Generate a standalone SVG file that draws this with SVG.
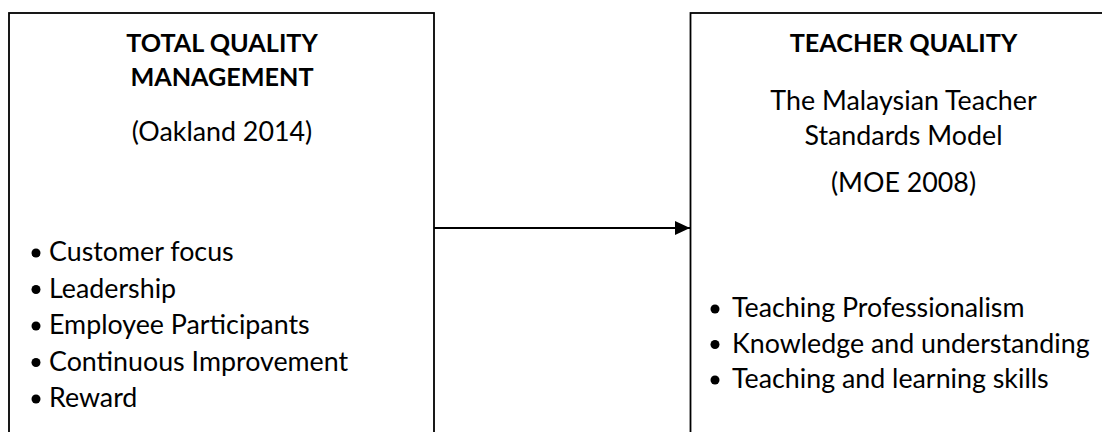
<svg xmlns="http://www.w3.org/2000/svg" width="1102" height="432" viewBox="0 0 1102 432">
  <style>
    .box { fill: #ffffff; stroke: #000000; stroke-width: 1.8; }
    .t { font-family: Lato, "Open Sans", "Liberation Sans", sans-serif; font-size: 26.8px; fill: #000000; }
    .h { font-weight: bold; font-size: 25.2px; }
    .c { text-anchor: middle; }
    .dot { fill: #000000; }
    .conn { stroke: #000000; stroke-width: 1.8; fill: none; }
  </style>
  <defs>
    <marker id="arrow" markerWidth="15" markerHeight="14" refX="15" refY="7" orient="auto" markerUnits="userSpaceOnUse">
      <path d="M0,0 L15,7 L0,14 Z" fill="#000000"/>
    </marker>
  </defs>
  <rect x="0" y="0" width="1102" height="432" fill="#ffffff"/>

  <g id="node-tqm">
    <rect class="box" x="9" y="13" width="425" height="440"/>
    <text class="t h c" x="222" y="52">TOTAL QUALITY</text>
    <text class="t h c" x="222" y="86">MANAGEMENT</text>
    <text class="t c" x="222" y="141">(Oakland 2014)</text>
    <circle class="dot" cx="36" cy="253" r="4.5"/>
    <text class="t" x="49" y="261">Customer focus</text>
    <circle class="dot" cx="36" cy="289.5" r="4.5"/>
    <text class="t" x="49" y="297.5">Leadership</text>
    <circle class="dot" cx="36" cy="326" r="4.5"/>
    <text class="t" x="49" y="334">Employee Participants</text>
    <circle class="dot" cx="36" cy="362.5" r="4.5"/>
    <text class="t" x="49" y="370.5">Continuous Improvement</text>
    <circle class="dot" cx="36" cy="399" r="4.5"/>
    <text class="t" x="49" y="407">Reward</text>
  </g>

  <g id="node-teacher">
    <rect class="box" x="690.5" y="13" width="440" height="440"/>
    <text class="t h c" x="903.5" y="52">TEACHER QUALITY</text>
    <text class="t c" x="903.5" y="110">The Malaysian Teacher</text>
    <text class="t c" x="903.5" y="145">Standards Model</text>
    <text class="t c" x="903.5" y="192">(MOE 2008)</text>
    <circle class="dot" cx="715" cy="309" r="4.5"/>
    <text class="t" x="732" y="317">Teaching Professionalism</text>
    <circle class="dot" cx="715" cy="344.5" r="4.5"/>
    <text class="t" x="732" y="352.5">Knowledge and understanding</text>
    <circle class="dot" cx="715" cy="380" r="4.5"/>
    <text class="t" x="732" y="388">Teaching and learning skills</text>
  </g>

  <g id="connectors">
    <line class="conn" x1="434" y1="228" x2="690" y2="228" marker-end="url(#arrow)"/>
  </g>
</svg>
